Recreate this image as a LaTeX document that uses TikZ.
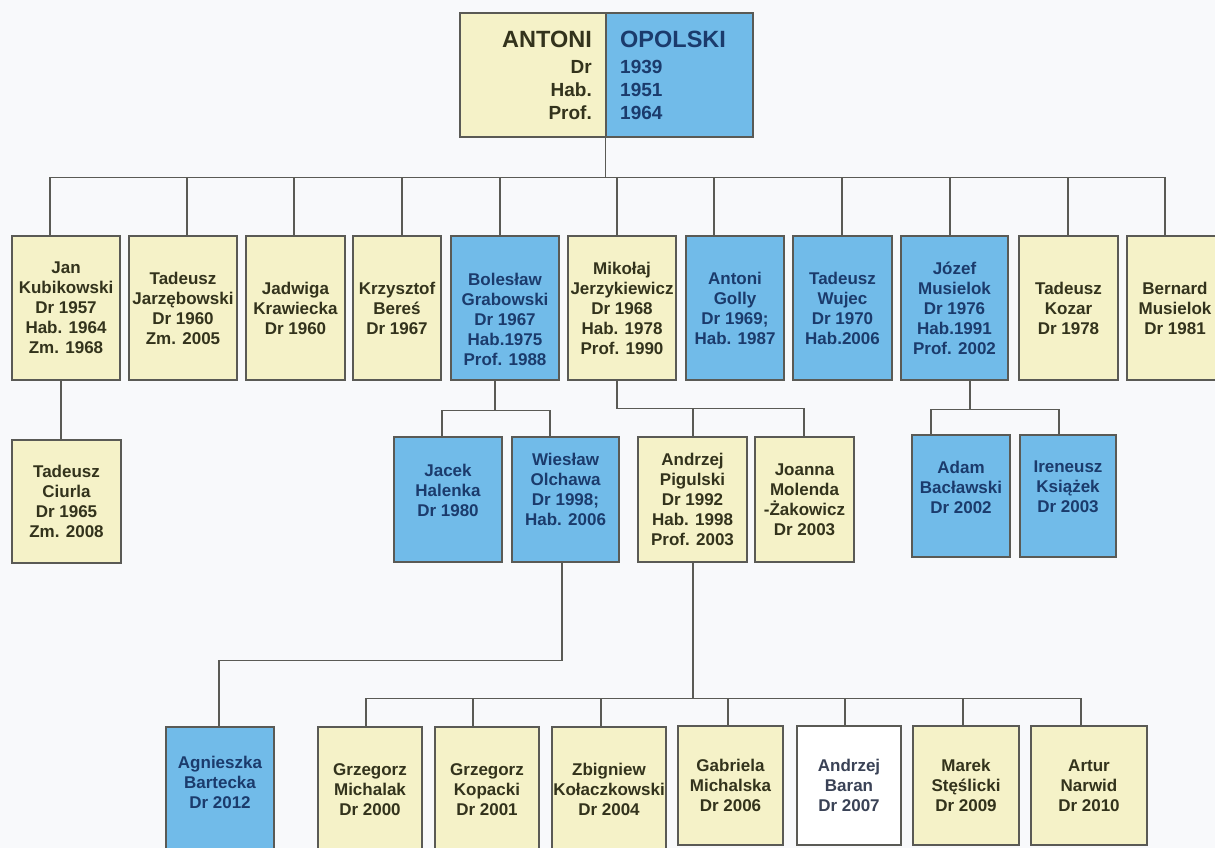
\documentclass[tikz,border=0pt]{standalone}
\usepackage{fontspec}
\setmainfont{Liberation Sans}
\definecolor{yel}{HTML}{F5F2C8}
\definecolor{blu}{HTML}{71BBE9}
\definecolor{ytxt}{HTML}{33331C}
\definecolor{btxt}{HTML}{1B3B6C}
\definecolor{wtxt}{HTML}{3A4256}
\definecolor{edge}{HTML}{5A5A55}
\definecolor{bg}{HTML}{F8F9FB}
\begin{document}
\begin{tikzpicture}[x=1pt,y=-1pt,
  box/.style={draw=edge, line width=1.3pt, inner sep=0pt, align=center,
    font=\bfseries\fontsize{17}{20}\selectfont},
  ybox/.style={box, fill=yel, text=ytxt},
  bbox/.style={box, fill=blu, text=btxt},
  wbox/.style={box, fill=white, text=wtxt},
  rowA/.style={minimum height=144pt},
  rowCl/.style={minimum height=125pt},
  rowCr/.style={minimum height=119pt},
  conn/.style={draw=edge, line width=1.3pt},
  rbig/.style={inner sep=0pt, font=\bfseries\fontsize{23.5}{26}\selectfont},
  rsmall/.style={inner sep=0pt, font=\bfseries\fontsize{19}{22}\selectfont}
]
\fill[bg] (0,0) rectangle (1215,848);
\useasboundingbox (0,0) rectangle (1215,848);
\clip (0,0) rectangle (1215,848);

% root
\node[box, fill=yel, minimum width=146pt, minimum height=124pt] (rootL) at (533,75) {};
\node[box, fill=blu, minimum width=147pt, minimum height=124pt] (rootR) at (679.5,75) {};
\node[rbig, text=ytxt, anchor=east] (rl1) at (592,39) {ANTONI};
\node[rsmall, text=ytxt, anchor=east] (rl2) at (592,67) {Dr};
\node[rsmall, text=ytxt, anchor=east] (rl3) at (592,90) {Hab.};
\node[rsmall, text=ytxt, anchor=east] (rl4) at (592,113) {Prof.};
\node[rbig, text=btxt, anchor=west] (rr1) at (620,39) {OPOLSKI};
\node[rsmall, text=btxt, anchor=west] (rr2) at (620,67) {1939};
\node[rsmall, text=btxt, anchor=west] (rr3) at (620,90) {1951};
\node[rsmall, text=btxt, anchor=west] (rr4) at (620,113) {1964};

% row 1
\node[ybox, rowA, minimum width=108pt] (jan) at (66,308) {Jan\\Kubikowski\\Dr 1957\\Hab. 1964\\Zm. 1968};
\node[ybox, rowA, minimum width=108pt] (tadj) at (183,308) {Tadeusz\\Jarzębowski\\Dr 1960\\Zm. 2005};
\node[ybox, rowA, minimum width=99pt] (jad) at (295.5,308) {Jadwiga\\Krawiecka\\Dr 1960};
\node[ybox, rowA, minimum width=88pt] (krz) at (397,308) {Krzysztof\\Bereś\\Dr 1967};
\node[bbox, rowA, minimum width=108pt] (bol) at (505,308) {\strut\\[1pt]Bolesław\\Grabowski\\Dr 1967\\Hab.1975\\Prof. 1988};
\node[ybox, rowA, minimum width=108pt] (mik) at (622,308) {Mikołaj\\Jerzykiewicz\\Dr 1968\\Hab. 1978\\Prof. 1990};
\node[bbox, rowA, minimum width=98pt] (gol) at (735,308) {Antoni\\Golly\\Dr 1969;\\Hab. 1987};
\node[bbox, rowA, minimum width=99pt] (wuj) at (842.5,308) {Tadeusz\\Wujec\\Dr 1970\\Hab.2006};
\node[bbox, rowA, minimum width=107pt] (joz) at (954.5,308) {Józef\\Musielok\\Dr 1976\\Hab.1991\\Prof. 2002};
\node[ybox, rowA, minimum width=99pt] (koz) at (1068.5,308) {Tadeusz\\Kozar\\Dr 1978};
\node[ybox, rowA, minimum width=96pt] (ber) at (1175,308) {Bernard\\Musielok\\Dr 1981};

\draw[conn] (rootR.south west) -- ++(0,40) coordinate (b0);
\draw[conn] ([xshift=-16pt]jan.north) |- (b0);
\draw[conn] ([xshift=4pt]tadj.north) |- (b0);
\draw[conn] ([xshift=-1.5pt]jad.north) |- (b0);
\draw[conn] ([xshift=5pt]krz.north) |- (b0);
\draw[conn] ([xshift=-5pt]bol.north) |- (b0);
\draw[conn] ([xshift=-5pt]mik.north) |- (b0);
\draw[conn] ([xshift=-21pt]gol.north) |- (b0);
\draw[conn] ([xshift=-0.5pt]wuj.north) |- (b0);
\draw[conn] ([xshift=-4.5pt]joz.north) |- (b0);
\draw[conn] ([xshift=-0.5pt]koz.north) |- (b0);
\draw[conn] ([xshift=-10pt]ber.north) |- (b0);

% row 2
\node[ybox, minimum width=109pt, minimum height=123pt] (ciu) at (66.5,501.5) {Tadeusz\\Ciurla\\Dr 1965\\Zm. 2008};
\node[bbox, minimum width=108pt, minimum height=125pt] (jac) at (448,499.5) {Jacek\\Halenka\\Dr 1980\\[-1pt]\mbox{}};
\node[bbox, minimum width=107pt, minimum height=125pt] (wie) at (565.5,499.5) {Wiesław\\Olchawa\\Dr 1998;\\Hab. 2006\\[1pt]\mbox{}};
\node[ybox, minimum width=109pt, minimum height=125pt] (andp) at (692.5,499.5) {Andrzej\\Pigulski\\Dr 1992\\Hab. 1998\\Prof. 2003};
\node[ybox, minimum width=99pt, minimum height=125pt] (joa) at (804.5,499.5) {Joanna\\Molenda\\-Żakowicz\\Dr 2003};
\node[bbox, minimum width=98pt, minimum height=122pt] (ada) at (961,496) {Adam\\Bacławski\\Dr 2002\\[-2pt]\mbox{}};
\node[bbox, minimum width=96pt, minimum height=122pt] (ire) at (1068,496) {Ireneusz\\Książek\\Dr 2003\\[-2pt]\mbox{}};

\draw[conn] ([xshift=-5pt]jan.south) -- ([xshift=-5.5pt]ciu.north);
\draw[conn] ([xshift=-10pt]bol.south) -- ++(0,30) coordinate (b1);
\draw[conn] ([xshift=-6pt]jac.north) |- (b1);
\draw[conn] ([xshift=-15.5pt]wie.north) |- (b1);
\draw[conn] ([xshift=-5pt]mik.south) -- ++(0,28) coordinate (b2);
\draw[conn] ([xshift=0.5pt]andp.north) |- (b2);
\draw[conn] ([xshift=-0.5pt]joa.north) |- (b2);
\draw[conn] ([xshift=15.5pt]joz.south) -- ++(0,29) coordinate (b3);
\draw[conn] ([xshift=-30pt]ada.north) |- (b3);
\draw[conn] ([xshift=-9pt]ire.north) |- (b3);

% row 3
\node[bbox, rowCl, minimum width=108pt] (agn) at (220,789.5) {Agnieszka\\Bartecka\\Dr 2012\\[-5pt]\mbox{}};
\node[ybox, rowCl, minimum width=104pt] (mic) at (370,789.5) {Grzegorz\\Michalak\\Dr 2000};
\node[ybox, rowCl, minimum width=104pt] (kop) at (487,789.5) {Grzegorz\\Kopacki\\Dr 2001};
\node[ybox, rowCl, minimum width=114pt] (kol) at (609,789.5) {Zbigniew\\Kołaczkowski\\Dr 2004};
\node[ybox, rowCr, minimum width=105pt] (gab) at (730.5,785.5) {Gabriela\\Michalska\\Dr 2006};
\node[wbox, rowCr, minimum width=104pt] (bar) at (849,785.5) {Andrzej\\Baran\\Dr 2007};
\node[ybox, rowCr, minimum width=106pt] (mar) at (966,785.5) {Marek\\Stęślicki\\Dr 2009};
\node[ybox, rowCr, minimum width=116pt] (art) at (1089,785.5) {Artur\\Narwid\\Dr 2010};

\draw[conn] ([xshift=-3.5pt]wie.south) -- ++(0,98) -| ([xshift=-1pt]agn.north);
\draw[conn] ([xshift=0.5pt]andp.south) -- ++(0,136) coordinate (b4);
\draw[conn] ([xshift=-4pt]mic.north) |- (b4);
\draw[conn] ([xshift=-14pt]kop.north) |- (b4);
\draw[conn] ([xshift=-8pt]kol.north) |- (b4);
\draw[conn] ([xshift=-2.5pt]gab.north) |- (b4);
\draw[conn] ([xshift=-4pt]bar.north) |- (b4);
\draw[conn] ([xshift=-3pt]mar.north) |- (b4);
\draw[conn] ([xshift=-8pt]art.north) |- (b4);
\end{tikzpicture}
\end{document}
